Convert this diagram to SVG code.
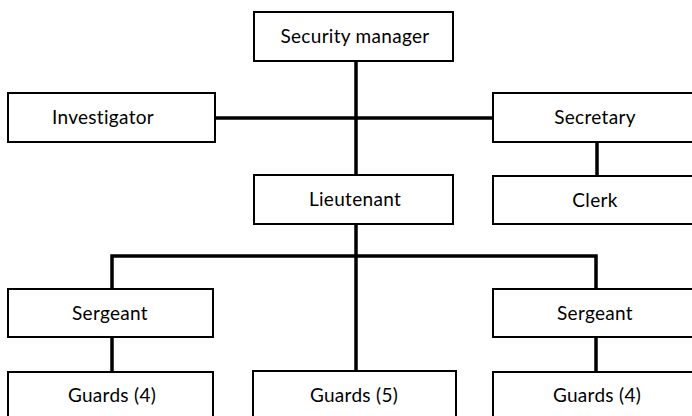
<svg xmlns="http://www.w3.org/2000/svg" width="692" height="416" viewBox="0 0 692 416">
<style>
.box{fill:#fff;stroke:#000;stroke-width:2}
.lbl{font-family:Lato,"Open Sans",sans-serif;font-size:19px;letter-spacing:0.3px;fill:#000;text-anchor:middle}
.con{fill:none;stroke:#000;stroke-width:3.5}
</style>
<rect width="692" height="416" fill="#fff"/>
<g id="connectors">
<line class="con" x1="356" y1="61" x2="356" y2="175"/>
<line class="con" x1="215" y1="118" x2="493" y2="118"/>
<line class="con" x1="597" y1="142" x2="597" y2="176"/>
<line class="con" x1="356" y1="224" x2="356" y2="371"/>
<polyline class="con" points="112,289 112,256 596,256 596,289"/>
<line class="con" x1="112" y1="337" x2="112" y2="372"/>
<line class="con" x1="596" y1="337" x2="596" y2="372"/>
</g>
<g id="security-manager"><rect class="box" x="254" y="12" width="199" height="49"/><text class="lbl" x="355" y="43">Security manager</text></g>
<g id="investigator"><rect class="box" x="8" y="93" width="207" height="49"/><text class="lbl" x="103" y="124">Investigator</text></g>
<g id="secretary"><rect class="box" x="493" y="93" width="210" height="49"/><text class="lbl" x="595" y="124">Secretary</text></g>
<g id="lieutenant"><rect class="box" x="254" y="175" width="199" height="49"/><text class="lbl" x="355" y="206">Lieutenant</text></g>
<g id="clerk"><rect class="box" x="493" y="176" width="210" height="48"/><text class="lbl" x="595" y="207">Clerk</text></g>
<g id="sergeant-left"><rect class="box" x="8" y="289" width="205" height="48"/><text class="lbl" x="110" y="320">Sergeant</text></g>
<g id="sergeant-right"><rect class="box" x="493" y="289" width="210" height="48"/><text class="lbl" x="595" y="320">Sergeant</text></g>
<g id="guards-left"><rect class="box" x="8" y="372" width="205" height="60"/><text class="lbl" x="112" y="402">Guards (4)</text></g>
<g id="guards-center"><rect class="box" x="253" y="371" width="203" height="60"/><text class="lbl" x="354" y="402">Guards (5)</text></g>
<g id="guards-right"><rect class="box" x="493" y="372" width="210" height="60"/><text class="lbl" x="597" y="402">Guards (4)</text></g>
</svg>
